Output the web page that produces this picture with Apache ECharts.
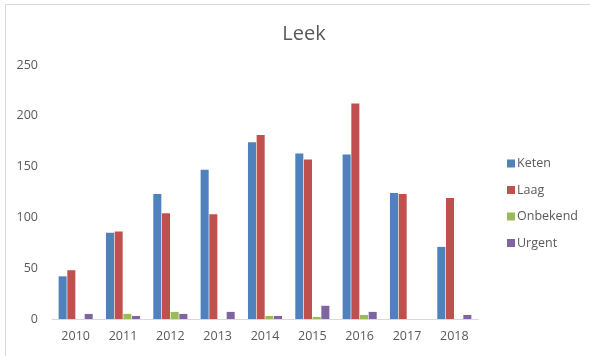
<!DOCTYPE html>
<html>
<head>
<meta charset="utf-8">
<script src="https://cdn.jsdelivr.net/npm/echarts@6/dist/echarts.min.js"></script>
<style>
  html, body { margin: 0; padding: 0; background: #ffffff; }
  #chart { width: 590px; height: 356px; }
</style>
</head>
<body>
<div id="chart"></div>
<script>
// Years on the category axis
const years = ['2010', '2011', '2012', '2013', '2014', '2015', '2016', '2017', '2018'];

// Counts per priority class
const keten    = [42, 85, 123, 147, 174, 163, 162, 124, 71];
const laag     = [48, 86, 104, 103, 181, 157, 212, 123, 119];
const onbekend = [0, 5, 7, 0, 3, 2, 4, 0, 0];
const urgent   = [5, 3, 5, 7, 3, 13, 7, 0, 4];

const seriesNames = ['Keten', 'Laag', 'Onbekend', 'Urgent'];
const seriesColors = ['#4F81BD', '#C0504D', '#9BBB59', '#8064A2'];
const seriesData = [keten, laag, onbekend, urgent];

const textColor = '#595959';
const fontFamily = '"Open Sans", "Noto Sans", sans-serif';

const chart = echarts.init(document.getElementById('chart'), null, { renderer: 'canvas' });

chart.setOption({
  animation: false,
  backgroundColor: '#ffffff',
  title: {
    text: 'Leek',
    left: 299,
    top: 19,
    textAlign: 'center',
    textStyle: { color: textColor, fontSize: 20, fontWeight: 'normal', fontFamily: fontFamily }
  },
  legend: {
    orient: 'vertical',
    left: 502,
    top: 152,
    itemWidth: 8,
    itemHeight: 8,
    itemGap: 13.5,
    icon: 'rect',
    textStyle: { color: textColor, fontSize: 12.5, fontFamily: fontFamily, padding: [0, 0, 0, -3] },
    data: seriesNames
  },
  grid: { left: 52, right: 112, top: 65, bottom: 37, containLabel: false },
  xAxis: {
    type: 'category',
    data: years,
    axisLine: { show: true, lineStyle: { color: '#d9d9d9', width: 1 } },
    axisTick: { show: false },
    axisLabel: { color: textColor, fontSize: 12.5, fontFamily: fontFamily, margin: 11 },
    splitLine: { show: false }
  },
  yAxis: {
    type: 'value',
    min: 0,
    max: 250,
    interval: 50,
    axisLine: { show: false },
    axisTick: { show: false },
    axisLabel: { color: textColor, fontSize: 12.5, fontFamily: fontFamily, margin: 14 },
    splitLine: { show: false }
  },
  series: seriesNames.map((name, i) => ({
    name: name,
    type: 'bar',
    data: seriesData[i],
    barGap: '8%',
    barCategoryGap: '28%',
    itemStyle: { color: seriesColors[i] }
  })),
  graphic: [
    // chart frame: top and left edges
    { type: 'line', shape: { x1: 5, y1: 4.5, x2: 590, y2: 4.5 }, style: { stroke: '#d9d9d9', lineWidth: 1 } },
    { type: 'line', shape: { x1: 5.5, y1: 4, x2: 5.5, y2: 356 }, style: { stroke: '#d9d9d9', lineWidth: 1 } }
  ]
});
</script>
</body>
</html>
